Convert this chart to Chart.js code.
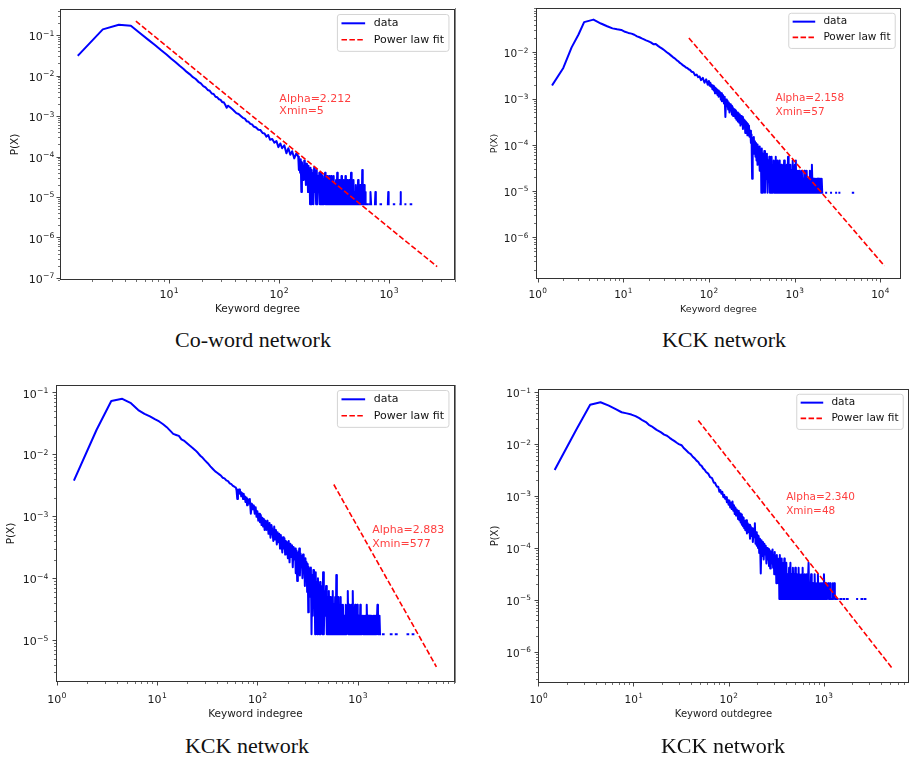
<!DOCTYPE html>
<html>
<head>
<meta charset="utf-8">
<title>Degree distributions</title>
<script src="https://cdn.jsdelivr.net/npm/chart.js@4.4.1/dist/chart.umd.min.js"></script>
<style>
  html, body { margin: 0; padding: 0; background: #fff; }
  body { position: relative; width: 909px; height: 757px; overflow: hidden; }
  canvas { position: absolute; }
  .caption { position: absolute; font-family: "Liberation Serif", "Times New Roman", serif; font-size: 22px; color: #111; white-space: nowrap; transform: translate(-50%, -50%); }
  .edge { position: absolute; left: 455px; width: 1px; background: #858585; }
</style>
</head>
<body>
<canvas id="p1" width="460" height="320" style="left:0;top:0"></canvas>
<canvas id="p2" width="453" height="320" style="left:456px;top:0"></canvas>
<canvas id="p3" width="460" height="360" style="left:0;top:370px"></canvas>
<canvas id="p4" width="453" height="360" style="left:456px;top:370px"></canvas>
<div class="edge" style="top:8px;height:272px"></div>
<div class="edge" style="top:385px;height:298px"></div>
<div class="caption" style="left:253px;top:340px">Co-word network</div>
<div class="caption" style="left:724px;top:340px">KCK network</div>
<div class="caption" style="left:247px;top:746px">KCK network</div>
<div class="caption" style="left:723px;top:746px">KCK network</div>
<script>
// ===============================
// DATA
// ===============================

// Co-word network - keyword degree
const coDeg = [
  1.5, 2.5, 3.5, 4.5, 5.5, 6.5, 7.5, 8.5, 9.5, 10.5, 11.5, 12.5, 13.5, 14.5, 15.5, 16.5, 17.5,
  18.5, 19.5, 20.5, 21.5, 22.5, 23.5, 24.5, 25.5, 26.5, 27.5, 28.5, 29.5, 30.5, 31.5, 32.5, 33.5, 34.5,
  36, 37.5, 39, 41, 43, 45, 47, 49, 51, 53, 55, 57, 59, 62, 65, 68, 71, 74, 77, 80, 83, 87, 91, 95,
  99, 103, 107, 112, 117, 122, 127, 132, 138, 144,
  150, 152, 154, 156, 158, 160, 162, 164, 166, 168, 170, 172, 174, 176, 178, 180, 182, 184, 186, 188, 190, 192, 194, 196, 198, 200,
  203, 206, 209, 212, 215, 218, 221, 224, 227, 230, 233, 236, 239, 242, 245, 248, 251, 254, 257, 260, 263, 266, 269, 272, 275,
  278, 281, 284, 287, 290, 293, 296, 299,
  303, 307, 311, 315, 319, 323, 327, 331, 335, 339, 343, 347, 351, 355, 359, 363, 367, 371, 375, 379, 383, 387, 391, 395, 399,
  403, 407, 411, 415, 419, 423, 427, 431, 435, 439, 443, 447,
  453, 459, 465, 471, 477, 483, 489, 495, 501, 507, 513, 519, 525, 531, 537, 543, 549, 555, 561, 567, 573, 579, 585, 591, 597, 603, 609,
  615, 630, 645, 660, 675, 681, 690, 710, 748, 755, 762, 800, 840, 850, 900, 980, 988, 996, 1050,
  1110, 1120, 1200, 1275, 1280, 1288, 1350, 1415, 1430, 1500, 1580, 1600
];
const coProb = [
  0.032, 0.138, 0.18, 0.17, 0.109, 0.076, 0.056, 0.042, 0.033, 0.026, 0.0212, 0.0174, 0.0147, 0.0123, 0.0107, 0.0091, 0.0082,
  0.0070, 0.0064, 0.0055, 0.0051, 0.0044, 0.0042, 0.0036, 0.0035, 0.0030, 0.0029, 0.0026, 0.0025, 0.0022, 0.0022, 0.0019, 0.0016, 0.0018,
  0.00165, 0.0015, 0.00135, 0.00118, 0.00112, 0.001, 0.0009, 0.00086, 0.00074, 0.00072, 0.00064, 0.00062, 0.00055, 0.00052, 0.00046,
  0.00045, 0.00038, 0.00037, 0.00031, 0.00034, 0.00026, 0.00027, 0.00022, 0.00024,
  0.00017, 0.00021, 0.00016, 0.00019, 0.00012, 0.00016, 0.00011, 0.000135, 0.00009, 0.00012,
  9.9e-5, 4.62e-5, 7.92e-5, 3.96e-5, 8.58e-5, 1.32e-5, 7.26e-5, 3.3e-5, 5.94e-5, 2.64e-5, 7.92e-5, 3.3e-5, 5.28e-5,
  1.98e-5, 6.6e-5, 2.64e-5, 4.62e-5, 1.32e-5, 5.94e-5, 1.98e-5, 3.96e-5, 6.6e-6, 5.28e-5, 1.98e-5, 4.62e-5, 6.6e-6,
  3.96e-5, 6.6e-6, 5.28e-5, 1.32e-5, 3.3e-5, 6.6e-6, 4.62e-5, 6.6e-6, 3.3e-5, 1.32e-5, 3.96e-5, 6.6e-6, 2.64e-5, 6.6e-6,
  3.96e-5, 6.6e-6, 3.3e-5, 6.6e-6, 2.64e-5, 1.32e-5, 3.96e-5, 6.6e-6, 2.64e-5, 6.6e-6, 3.3e-5, 6.6e-6, 1.98e-5, 6.6e-6,
  3.3e-5, 6.6e-6, 2.64e-5, 6.6e-6, 3.3e-5,
  6.6e-6, 2.64e-5, 6.6e-6, 3.3e-5, 6.6e-6, 1.98e-5, 6.6e-6, 2.64e-5, 6.6e-6, 3.96e-5, 6.6e-6, 1.98e-5, 6.6e-6, 2.64e-5,
  6.6e-6, 1.98e-5, 6.6e-6, 3.3e-5, 6.6e-6, 1.98e-5, 6.6e-6, 2.64e-5, 6.6e-6, 1.98e-5, 6.6e-6, 3.3e-5, 6.6e-6, 1.98e-5,
  6.6e-6, 2.64e-5, 6.6e-6, 1.32e-5, 6.6e-6, 2.64e-5, 6.6e-6, 1.98e-5, 6.6e-6,
  3.96e-5, 6.6e-6, 1.98e-5, 6.6e-6, 2.64e-5, 6.6e-6, 1.32e-5, 6.6e-6, 1.98e-5, 6.6e-6, 1.32e-5, 6.6e-6, 2.64e-5, 6.6e-6,
  1.32e-5, 6.6e-6, 1.98e-5, 6.6e-6, 1.32e-5, 6.6e-6, 4.62e-5, 6.6e-6, 1.32e-5, 6.6e-6, 1.98e-5, 6.6e-6, 1.32e-5,
  6.6e-6, 6.6e-6, 6.6e-6, null, 6.6e-6, 1.32e-5, 6.6e-6, null, 6.6e-6, 1.32e-5, 6.6e-6, null, 6.6e-6, 6.6e-6, null,
  6.6e-6, 1.32e-5, 6.6e-6, null, 6.6e-6, 6.6e-6, null, 6.6e-6, 1.32e-5, 6.6e-6, null, 6.6e-6, 6.6e-6, null, 6.6e-6, 6.6e-6
];
const coFitX = [5, 2750];
const coFitY = [0.22, 1.9e-7];

// KCK network - keyword degree
const kckDeg = [
  1.5, 2, 2.5, 3, 3.5, 4.5, 5.5, 6.5, 7.5, 8.5, 9.5, 10.5, 11.5, 12.5, 13.5, 14.5, 15.5, 16.5,
  17.5, 18.5, 19.5, 21, 22.5, 24, 25.5, 27, 28.5, 30, 32, 34, 36, 38,
  40, 42, 44, 46, 48, 50, 52, 54, 56, 58, 60, 63, 66, 69, 72, 75, 78, 81, 85, 89, 93, 97,
  100, 102, 104, 106, 108, 110, 112, 114, 116, 118, 120, 122, 124, 126, 128, 130, 132, 134, 136, 138, 140, 142, 144, 146, 148, 150,
  153, 156, 159, 162, 165, 168, 171, 174, 177, 180, 183, 186, 189, 192, 195, 198, 201, 204, 207, 210,
  214, 218, 222, 226, 230, 234, 238, 242, 246, 250, 254, 258, 262, 266, 270, 274, 278, 282, 286, 290, 294, 298,
  305, 310, 315, 320, 325, 330, 335, 340, 345, 350, 355, 360, 365, 370, 375, 380, 385, 390, 395, 400, 405, 410, 415, 420,
  428, 436, 444, 452, 460, 468, 476, 484, 492, 500, 508, 516, 524, 532, 540, 548, 556, 564, 572, 580, 588, 596, 604, 612,
  620, 628, 636, 644, 652, 660, 668, 676, 684, 692, 700,
  714, 728, 742, 756, 770, 784, 798, 812, 826, 840, 854, 868, 882, 896, 910, 924, 938, 952, 966, 980, 994, 1008, 1022, 1036,
  1050, 1064, 1078, 1092,
  1113, 1134, 1155, 1176, 1197, 1218, 1239, 1260, 1281, 1302, 1323, 1344, 1365, 1386, 1407, 1428, 1449, 1470, 1491, 1512,
  1533, 1554, 1575, 1596,
  1626, 1656, 1686, 1716, 1746, 1776, 1806, 1836, 1866, 1896, 1926, 1956, 1986, 2016, 2046, 2076, 2106, 2136,
  2200, 2340, 2370, 2500, 2670, 2700, 2900, 3060, 3090, 3200, 3340, 3370, 4000, 4790, 4840
];
const kckProb = [
  0.002, 0.0046, 0.0128, 0.024, 0.045, 0.051, 0.042, 0.0366, 0.033, 0.0315, 0.0305, 0.0278, 0.0263, 0.0254, 0.024, 0.0222, 0.0212, 0.02,
  0.0191, 0.0182, 0.0175, 0.0164, 0.015, 0.0152, 0.0138, 0.0128, 0.012, 0.0112, 0.0102, 0.0094, 0.0086, 0.0079,
  0.0074, 0.0068, 0.0064, 0.0059, 0.0056, 0.0052, 0.005, 0.0047, 0.0046, 0.0043, 0.0042, 0.0038, 0.0037, 0.0032, 0.0033,
  0.0029, 0.003, 0.0025, 0.0028, 0.0022, 0.0026, 0.002,
  0.0024, 0.0019, 0.0022, 0.0018, 0.002, 0.0016, 0.0019, 0.0015, 0.0018, 0.0013, 0.0017, 0.0014, 0.0016, 0.0012, 0.0015,
  0.0011, 0.0014, 0.0012, 0.0013, 0.00095, 0.0013, 0.00088, 0.0012, 0.0009, 0.0011, 0.00078,
  0.0011, 0.0004, 0.00095, 0.00068, 0.0009, 0.00058, 0.00082, 0.0005, 0.00075, 0.00055, 0.0007, 0.00045, 0.00066, 0.00042,
  0.0006, 0.0005, 0.00058, 0.00038, 0.00055, 0.00035,
  0.0005, 0.00032, 0.00048, 0.0003, 0.00045, 0.00026, 0.00042, 0.00028, 0.0004, 0.00022, 0.00036, 0.00025, 0.00034, 0.00018,
  0.00032, 0.00021, 0.0003, 0.00016, 0.00028, 0.00019, 0.00026, 0.00015,
  2.02e-4, 1.1e-4, 1.66e-4, 1.84e-5, 1.38e-4, 8.28e-5, 1.47e-4, 6.44e-5, 1.2e-4, 5.52e-5, 1.1e-4, 4.6e-5, 1.01e-4, 3.68e-5,
  9.2e-5, 4.6e-5, 8.28e-5, 2.76e-5, 9.2e-5, 3.68e-5, 7.36e-5, 9.2e-6, 8.28e-5, 9.2e-6,
  6.44e-5, 1.84e-5, 7.36e-5, 9.2e-6, 5.52e-5, 1.84e-5, 6.44e-5, 9.2e-6, 4.6e-5, 1.84e-5, 5.52e-5, 9.2e-6, 4.6e-5, 9.2e-6,
  5.52e-5, 9.2e-6, 3.68e-5, 1.84e-5, 4.6e-5, 9.2e-6, 3.68e-5, 9.2e-6, 5.52e-5, 9.2e-6, 3.68e-5, 9.2e-6, 4.6e-5, 9.2e-6,
  2.76e-5, 9.2e-6, 4.6e-5, 9.2e-6, 2.76e-5, 9.2e-6, 3.68e-5,
  9.2e-6, 2.76e-5, 9.2e-6, 4.6e-5, 9.2e-6, 2.76e-5, 9.2e-6, 3.68e-5, 9.2e-6, 5.52e-5, 9.2e-6, 2.76e-5, 9.2e-6, 3.68e-5,
  9.2e-6, 2.76e-5, 9.2e-6, 4.6e-5, 9.2e-6, 2.76e-5, 9.2e-6, 3.68e-5, 9.2e-6, 4.6e-5, 9.2e-6, 1.84e-5, 9.2e-6, 2.76e-5,
  9.2e-6, 2.76e-5, 9.2e-6, 1.84e-5, 9.2e-6, 2.76e-5, 9.2e-6, 1.84e-5, 9.2e-6, 2.76e-5, 9.2e-6, 1.84e-5, 9.2e-6, 2.76e-5,
  9.2e-6, 1.84e-5, 9.2e-6, 1.84e-5, 9.2e-6, 2.76e-5, 9.2e-6, 1.84e-5, 9.2e-6, 3.68e-5,
  9.2e-6, 1.84e-5, 9.2e-6, 1.84e-5, 9.2e-6, 1.84e-5, 9.2e-6, 1.84e-5, 9.2e-6, 1.84e-5, 9.2e-6, 1.84e-5, 9.2e-6, 1.84e-5,
  9.2e-6, 1.84e-5, 9.2e-6, 9.2e-6,
  null, 9.2e-6, 9.2e-6, null, 9.2e-6, 9.2e-6, null, 9.2e-6, 9.2e-6, null, 9.2e-6, 9.2e-6, null, 9.2e-6, 9.2e-6
];
const kckFitX = [58.5, 11200];
const kckFitY = [0.0204, 2.4e-7];

// KCK network - keyword indegree
const inDeg = [
  1.5, 2.5, 3.5, 4.5, 5.5, 6.5, 7.5, 8.5, 9.5, 10.5, 11.5, 12.5, 13.5, 14.5, 15.5, 16.5, 17.5, 18.5, 19.5,
  21, 22.5, 24, 25.5, 27, 28.5, 30, 32, 34, 36, 38,
  40, 42, 43.5, 45, 47, 49, 51, 53, 55, 57, 59,
  61, 62, 63, 64, 65, 66, 67, 68, 69, 70, 71, 72, 73, 74, 75, 76, 77, 78, 79, 80,
  82, 84, 86, 88, 90, 92, 94, 96, 98, 100, 102, 104, 106, 108, 110, 112, 114, 116, 118, 120,
  123, 126, 129, 132, 135, 138, 141, 144, 147, 150, 153, 156, 159, 162, 165, 168, 171, 174, 177, 180, 183, 186, 189, 192,
  195, 198, 201,
  205, 209, 213, 217, 221, 225, 229, 233, 237, 241, 245, 249, 253, 257, 261, 265, 269, 273, 277, 281, 285, 289, 293, 297,
  301, 305, 309, 313, 317, 321, 325, 329, 333, 337,
  341, 346, 351, 356, 361, 366, 371, 376, 381, 386, 391, 396, 401, 406, 411, 416, 421, 426, 431, 436, 441, 446, 451,
  459, 467, 475, 483, 491, 499, 507, 515, 523, 531, 539, 547, 555, 563, 571, 579, 587, 595, 603, 611, 619, 627, 635, 643,
  651, 659, 667, 675, 683, 691, 699,
  711, 723, 735, 747, 759, 771, 783, 795, 807, 819, 831, 843, 855, 867, 879, 891, 903, 915, 927, 939, 951, 963, 975, 987,
  999, 1011, 1023, 1035, 1047, 1059, 1071, 1083, 1095,
  1114, 1133, 1152, 1171, 1190, 1209, 1228, 1247, 1266, 1285, 1304, 1323, 1342, 1361, 1380, 1399, 1418, 1437, 1456, 1475,
  1494, 1513, 1532, 1551, 1570, 1589, 1608, 1627, 1646, 1665, 1684, 1703,
  1740, 1780, 1810, 1900, 2130, 2170, 2300, 2390, 2440, 2800, 3130, 3180, 3300, 3520, 3580
];
const inProb = [
  0.0039, 0.025, 0.073, 0.079, 0.067, 0.052, 0.045, 0.041, 0.037, 0.034, 0.0307, 0.0275, 0.0242, 0.0214, 0.0206, 0.0199, 0.0175, 0.0167, 0.0155,
  0.014, 0.0128, 0.0117, 0.0106, 0.0095, 0.0088, 0.008, 0.0072, 0.0064, 0.0058, 0.0053,
  0.005, 0.0047, 0.0045, 0.0042, 0.0041, 0.0038, 0.0037, 0.0034, 0.0033, 0.0031, 0.003,
  0.0029, 0.0026, 0.0019, 0.0027, 0.0025, 0.0027, 0.0023, 0.0025, 0.0021, 0.0024, 0.0022, 0.0019, 0.0023, 0.002, 0.0021,
  0.0017, 0.002, 0.0018, 0.0015, 0.0019,
  0.0016, 0.0019, 0.0011, 0.0016, 0.0013, 0.0015, 0.0011, 0.0014, 0.00098, 0.0012, 0.00085, 0.0011, 0.0008, 0.00105,
  0.00072, 0.00095, 0.00068, 0.0009, 0.0006, 0.00085,
  0.0006, 0.00085, 0.00052, 0.00078, 0.00045, 0.00072, 0.00058, 0.0004, 0.00068, 0.00042, 0.0006, 0.00035, 0.00055, 0.00038,
  0.00052, 0.0003, 0.0005, 0.00036, 0.00026, 0.00046, 0.0003, 0.00044, 0.00024, 0.0004, 0.00028, 0.00038, 0.00021,
  0.0004, 0.00018, 0.00036, 0.00022, 0.00034, 0.00015, 0.00032, 0.0002, 0.0003, 0.00012, 0.00028, 0.00009, 0.00026, 0.00017,
  0.0003, 0.00011, 0.00025, 0.00015, 0.00023, 0.0001, 0.00024, 0.00012, 0.0002, 0.000075, 0.00021, 0.00011, 0.00018, 0.00006,
  0.00017, 0.000028, 0.00015, 0.00007, 0.00014, 0.00005,
  1.49e-4, 1.24e-5, 1.12e-4, 2.48e-5, 1.36e-4, 3.72e-5, 9.92e-5, 1.24e-5, 1.24e-4, 2.48e-5, 8.68e-5, 1.24e-5, 9.92e-5,
  2.48e-5, 7.44e-5, 1.24e-5, 8.68e-5, 1.24e-5, 6.2e-5, 2.48e-5, 7.44e-5, 1.24e-5, 1.24e-4,
  1.24e-5, 6.2e-5, 2.48e-5, 7.44e-5, 1.24e-5, 4.96e-5, 1.24e-5, 6.2e-5, 1.24e-5, 4.96e-5, 1.24e-5, 3.72e-5, 1.24e-5, 6.2e-5,
  1.24e-5, 3.72e-5, 1.24e-5, 4.96e-5, 1.24e-5, 1.12e-4, 1.24e-5, 3.72e-5, 1.24e-5, 4.96e-5, 1.24e-5, 3.72e-5, 1.24e-5,
  4.96e-5, 1.24e-5, 3.72e-5, 1.24e-5,
  3.72e-5, 1.24e-5, 2.48e-5, 1.24e-5, 3.72e-5, 1.24e-5, 2.48e-5, 6.2e-5, 1.24e-5, 3.72e-5, 1.24e-5, 2.48e-5, 1.24e-5, 3.72e-5,
  1.24e-5, 6.2e-5, 1.24e-5, 2.48e-5, 1.24e-5, 3.72e-5, 1.24e-5, 2.48e-5, 1.24e-5, 3.72e-5, 1.24e-5, 2.48e-5, 1.24e-5, 2.48e-5,
  1.24e-5, 3.72e-5, 1.24e-5, 2.48e-5, 1.24e-5,
  2.48e-5, 1.24e-5, 2.48e-5, 1.24e-5, 2.48e-5, 1.24e-5, 3.72e-5, 1.24e-5, 2.48e-5, 1.24e-5, 2.48e-5, 1.24e-5, 2.48e-5, 1.24e-5,
  2.48e-5, 1.24e-5, 1.24e-5, 2.48e-5, 1.24e-5, 2.48e-5, 1.24e-5, 2.48e-5, 1.24e-5, 1.24e-5, 3.72e-5, 1.24e-5, 2.48e-5, 1.24e-5,
  2.48e-5, 1.24e-5, 1.24e-5, 1.24e-5,
  null, 1.24e-5, 1.24e-5, null, 1.24e-5, 1.24e-5, null, 1.24e-5, 1.24e-5, null, 1.24e-5, 1.24e-5, null, 1.24e-5, 1.24e-5
];
const inFitX = [577, 6070];
const inFitY = [0.00326, 3.7e-6];

// KCK network - keyword outdegree
const outDeg = [
  1.5, 2.5, 3.5, 4.5, 5.5, 6.5, 7.5, 8.5, 9.5, 10.5, 11.5, 12.5, 13.5, 14.5, 15.5, 16.5, 17.5, 18.5, 19.5,
  21, 22.5, 24, 25.5, 27, 28.5, 30, 32, 34, 36, 38,
  40, 42, 44, 46, 48, 50, 52, 54, 56, 58, 61, 64, 67, 70,
  72, 74, 76, 78, 80, 82, 84, 86, 88, 90, 92, 94, 96, 98, 100,
  102, 104, 106, 108, 110, 112, 114, 116, 118, 120, 122, 124, 126, 128, 130, 132, 134, 136, 138, 140, 142, 144, 146, 148, 150,
  153, 156, 159, 162, 165, 168, 171, 174, 177, 180, 183, 186, 189, 192, 195, 198, 201, 204, 207, 210,
  214, 218, 222, 226, 230, 234, 238, 242, 246, 250, 254, 258, 262, 266, 270, 274, 278, 282, 286,
  290, 294, 298, 302, 306, 310, 314, 318, 322, 326, 330, 334, 338, 342, 346, 350, 354, 358, 362, 366, 370, 374, 378, 382,
  386, 390, 394, 398,
  405, 412, 419, 426, 433, 440, 447, 454, 461, 468, 475, 482, 489, 496, 503, 510, 517, 524, 531, 538, 545, 552, 559, 566,
  573, 580, 587, 594, 601, 608, 615, 622, 629, 636, 643, 650,
  661, 672, 683, 694, 705, 716, 727, 738, 749, 760, 771, 782, 793, 804, 815, 826, 837, 848, 859, 870, 881, 892, 903, 914,
  925, 936, 947, 958, 969, 980, 991,
  1007, 1023, 1039, 1055, 1071, 1087, 1103, 1119, 1135, 1151, 1167, 1183, 1199, 1215, 1231, 1247, 1263, 1279, 1295, 1311, 1327,
  1360, 1400, 1450, 1500, 1530, 1580, 1620, 1650, 1700, 1760, 1790, 2000, 2250, 2290, 2400, 2500, 2540, 2600, 2700, 2750
];
const outProb = [
  0.0033, 0.0188, 0.057, 0.064, 0.055, 0.047, 0.041, 0.039, 0.037, 0.0345, 0.0316, 0.0285, 0.0265, 0.0235, 0.022, 0.0203, 0.0188, 0.0178, 0.0168,
  0.0152, 0.0145, 0.0132, 0.0122, 0.0114, 0.0106, 0.01, 0.0095, 0.0083, 0.0075, 0.0068,
  0.0064, 0.0057, 0.0053, 0.0048, 0.0045, 0.004, 0.0038, 0.0034, 0.0032, 0.0029, 0.0027, 0.0023, 0.0022, 0.0018,
  0.0018, 0.0016, 0.0015, 0.0015, 0.0012, 0.0013, 0.0011, 0.0012, 0.00095, 0.00105, 0.00088, 0.00095, 0.00076, 0.00085, 0.00068,
  0.00082, 0.0006, 0.00075, 0.00056, 0.00078, 0.00052, 0.00066, 0.00045, 0.0006, 0.00042, 0.00055, 0.00046, 0.00036, 0.00052,
  0.00034, 0.00046, 0.00031, 0.00044, 0.00028, 0.0004, 0.00026, 0.00038, 0.00024, 0.00033, 0.00022,
  0.00034, 0.00019, 0.0003, 0.0002, 0.00028, 0.00015, 0.00026, 0.00017, 0.00024, 0.00013, 0.00022, 0.00016, 0.0003, 0.00012,
  0.0002, 0.00011, 0.00018, 0.0001, 0.00017, 0.00008,
  0.00015, 0.000032, 0.00014, 0.00007, 0.00013, 0.00006, 0.00012, 0.000075, 0.00011, 0.00005, 0.0001, 0.00006, 0.000095,
  0.000045, 0.00009, 0.00004, 0.000085, 0.00005, 0.00008,
  9.36e-5, 4.16e-5, 7.28e-5, 3.12e-5, 8.32e-5, 3.12e-5, 6.24e-5, 2.08e-5, 7.28e-5, 3.12e-5, 5.2e-5, 2.08e-5, 6.24e-5, 1.04e-5,
  7.28e-5, 1.04e-5, 5.2e-5, 2.08e-5, 6.24e-5, 1.04e-5, 5.2e-5, 1.04e-5, 4.16e-5, 2.08e-5, 6.24e-5, 1.04e-5, 4.16e-5, 1.04e-5,
  5.2e-5, 1.04e-5, 3.12e-5, 1.04e-5, 4.16e-5, 1.04e-5, 5.2e-5, 1.04e-5, 3.12e-5, 1.04e-5, 4.16e-5, 1.04e-5, 3.12e-5, 1.04e-5,
  4.16e-5, 1.04e-5, 3.12e-5, 1.04e-5, 2.08e-5, 1.04e-5, 4.16e-5, 1.04e-5, 3.12e-5, 1.04e-5, 2.08e-5, 1.04e-5, 3.12e-5, 1.04e-5,
  4.16e-5, 1.04e-5, 2.08e-5, 1.04e-5, 3.12e-5, 1.04e-5, 2.08e-5, 1.04e-5,
  3.12e-5, 1.04e-5, 2.08e-5, 5.2e-5, 1.04e-5, 2.08e-5, 1.04e-5, 3.12e-5, 1.04e-5, 2.08e-5, 1.04e-5, 2.08e-5, 1.04e-5, 3.12e-5,
  1.04e-5, 2.08e-5, 1.04e-5, 2.08e-5, 1.04e-5, 3.12e-5, 1.04e-5, 2.08e-5, 1.04e-5, 2.08e-5, 1.04e-5, 2.08e-5, 1.04e-5, 2.08e-5,
  1.04e-5, 2.08e-5, 1.04e-5,
  3.12e-5, 1.04e-5, 2.08e-5, 1.04e-5, 2.08e-5, 1.04e-5, 1.04e-5, 2.08e-5, 1.04e-5, 1.04e-5, 2.08e-5, 1.04e-5, 1.04e-5, 1.04e-5,
  1.04e-5, 2.08e-5, 1.04e-5, 1.04e-5, 2.08e-5, 1.04e-5, 1.04e-5,
  1.04e-5, 1.04e-5, null, 1.04e-5, 1.04e-5, null, 1.04e-5, 1.04e-5, null, 1.04e-5, 1.04e-5, null,
  1.04e-5, 1.04e-5, null, 1.04e-5, 1.04e-5, null, 1.04e-5, 1.04e-5
];
const outFitX = [48, 5310];
const outFitY = [0.0285, 4.7e-7];

// labelled decades on each axis
const coTicksX = [1e1, 1e2, 1e3];
const coTicksY = [1e-7, 1e-6, 1e-5, 1e-4, 1e-3, 1e-2, 1e-1];
const kckTicksX = [1e0, 1e1, 1e2, 1e3, 1e4];
const kckTicksY = [1e-6, 1e-5, 1e-4, 1e-3, 1e-2];
const inTicksX = [1e0, 1e1, 1e2, 1e3];
const inTicksY = [1e-5, 1e-4, 1e-3, 1e-2, 1e-1];
const outTicksX = [1e0, 1e1, 1e2, 1e3];
const outTicksY = [1e-6, 1e-5, 1e-4, 1e-3, 1e-2, 1e-1];

// ===============================
// PANELS (layout + styles)
// ===============================
const panels = [
  { id: 'p1', x: coDeg, y: coProb, fx: coFitX, fy: coFitY, xMaj: coTicksX, yMaj: coTicksY,
    xr: [1.02, 4000], yr: [8.9e-8, 0.44], H: 320, area: { l: 60, t: 9, r: 455, b: 280 }, W: 460,
    font: 11, tFont: 10.5, xLab: 13, yLab: 6, xTitlePad: 4.7, yTitlePad: 8.7,
    xTitle: 'Keyword degree', notes: ['Alpha=2.212', 'Xmin=5'], noteAt: [101, 2.63e-3], noteGap: 12.3 },
  { id: 'p2', x: kckDeg, y: kckProb, fx: kckFitX, fy: kckFitY, xMaj: kckTicksX, yMaj: kckTicksY,
    xr: [0.96, 17500], yr: [1.25e-7, 0.091], H: 320, area: { l: 80, t: 8, r: 445, b: 279 }, W: 453,
    font: 10.5, tFont: 9.5, xLab: 14, yLab: 8, xTitlePad: 5, yTitlePad: 32.6,
    xTitle: 'Keyword degree', notes: ['Alpha=2.158', 'Xmin=57'], noteAt: [600, 1.0e-3], noteGap: 13.4 },
  { id: 'p3', x: inDeg, y: inProb, fx: inFitX, fy: inFitY, xMaj: inTicksX, yMaj: inTicksY,
    xr: [0.985, 9300], yr: [2.1e-6, 0.132], H: 360, area: { l: 56, t: 15, r: 455, b: 312 }, W: 460,
    font: 11, tFont: 10.5, xLab: 16, yLab: 8, xTitlePad: 9.7, yTitlePad: 5.4,
    xTitle: 'Keyword indegree', notes: ['Alpha=2.883', 'Xmin=577'], noteAt: [1390, 5.9e-4], noteGap: 13.4 },
  { id: 'p4', x: outDeg, y: outProb, fx: outFitX, fy: outFitY, xMaj: outTicksX, yMaj: outTicksY,
    xr: [0.99, 7900], yr: [2.5e-7, 0.115], H: 360, area: { l: 82, t: 19, r: 453, b: 313 }, W: 453,
    font: 10.5, tFont: 10, xLab: 15, yLab: 7.5, xTitlePad: 10, yTitlePad: 33,
    xTitle: 'Keyword outdegree', notes: ['Alpha=2.340', 'Xmin=48'], noteAt: [403, 9.6e-4], noteGap: 14.5 }
];

const FONT = '"DejaVu Sans", "Liberation Sans", sans-serif';

// decades + 2..9 minor ticks inside [min, max]
function logTicks(min, max, majors) {
  const out = [];
  for (let e = Math.floor(Math.log10(min)); e <= Math.ceil(Math.log10(max)); e++) {
    for (let m = 1; m <= 9; m++) {
      const v = m * Math.pow(10, e);
      if (v < min || v > max) continue;
      const major = m === 1 && majors.some(d => Math.abs(Math.log10(d) - e) < 1e-9);
      out.push({ value: v, major });
    }
  }
  return out;
}

// "10" with a raised exponent, like matplotlib mathtext
function drawPow(ctx, v, f, x, cy, align) {
  const exp = String(Math.round(Math.log10(v))).replace('-', '\u2212');
  ctx.font = f + 'px ' + FONT;
  const w1 = ctx.measureText('10').width;
  ctx.font = (0.7 * f) + 'px ' + FONT;
  const w2 = ctx.measureText(exp).width;
  const left = align === 'right' ? x - w1 - w2 : x - (w1 + w2) / 2;
  const base = cy + 0.465 * f;
  ctx.textAlign = 'left';
  ctx.textBaseline = 'alphabetic';
  ctx.fillStyle = '#1a1a1a';
  ctx.font = f + 'px ' + FONT;
  ctx.fillText('10', left, base);
  ctx.font = (0.7 * f) + 'px ' + FONT;
  ctx.fillText(exp, left + w1 + 0.3, base - 0.42 * f);
}

function roundRect(ctx, x, y, w, h, r) {
  ctx.beginPath();
  ctx.moveTo(x + r, y);
  ctx.lineTo(x + w - r, y); ctx.quadraticCurveTo(x + w, y, x + w, y + r);
  ctx.lineTo(x + w, y + h - r); ctx.quadraticCurveTo(x + w, y + h, x + w - r, y + h);
  ctx.lineTo(x + r, y + h); ctx.quadraticCurveTo(x, y + h, x, y + h - r);
  ctx.lineTo(x, y + r); ctx.quadraticCurveTo(x, y, x + r, y);
  ctx.closePath();
}

// frame, matplotlib style ticks + labels, legend box and fit annotation
function decor(p) {
  return {
    id: 'decor',
    afterDraw(chart) {
      const { ctx, chartArea: a, scales: { x, y } } = chart;
      ctx.save();
      ctx.strokeStyle = '#333';
      x.ticks.forEach(t => {
        const px = Math.round(x.getPixelForValue(t.value)) + 0.5;
        ctx.lineWidth = t.major ? 0.9 : 0.7;
        ctx.beginPath(); ctx.moveTo(px, a.bottom); ctx.lineTo(px, a.bottom + (t.major ? 3.5 : 2)); ctx.stroke();
        if (t.major) drawPow(ctx, t.value, p.font, x.getPixelForValue(t.value), a.bottom + p.xLab, 'center');
      });
      y.ticks.forEach(t => {
        const py = Math.round(y.getPixelForValue(t.value)) + 0.5;
        ctx.lineWidth = t.major ? 0.9 : 0.7;
        ctx.beginPath(); ctx.moveTo(a.left, py); ctx.lineTo(a.left - (t.major ? 3.5 : 2), py); ctx.stroke();
        if (t.major) drawPow(ctx, t.value, p.font, a.left - p.yLab, y.getPixelForValue(t.value), 'right');
      });
      ctx.lineWidth = 1;
      ctx.strokeRect(a.left + 0.5, a.top + 0.5, a.right - a.left - 1, a.bottom - a.top - 1);

      // legend
      const f = p.font;
      ctx.font = f + 'px ' + FONT;
      const rows = [chart.data.datasets[1], chart.data.datasets[0]];
      const tw = Math.max(...rows.map(r => ctx.measureText(r.label).width));
      const hl = 2.15 * f, gap = 0.78 * f, padL = 0.37 * f;
      const w = padL + hl + gap + tw + 0.45 * f;
      const h = 0.8 * f + 1.5 * f + 1.05 * f;
      const bx = a.right - 0.55 * f - w, by = a.top + 0.5 * f;
      roundRect(ctx, bx, by, w, h, 2.5);
      ctx.fillStyle = 'rgba(255,255,255,0.85)';
      ctx.fill();
      ctx.strokeStyle = '#d4d4d4';
      ctx.stroke();
      ctx.textBaseline = 'middle';
      ctx.textAlign = 'left';
      rows.forEach((r, i) => {
        const cy = by + 0.8 * f + i * 1.5 * f;
        ctx.setLineDash(r.borderDash || []);
        ctx.strokeStyle = r.borderColor;
        ctx.lineWidth = r.borderWidth;
        ctx.beginPath(); ctx.moveTo(bx + padL, cy); ctx.lineTo(bx + padL + hl, cy); ctx.stroke();
        ctx.setLineDash([]);
        ctx.fillStyle = '#111';
        ctx.fillText(r.label, bx + padL + hl + gap, cy);
      });

      // alpha / xmin note
      const nx = x.getPixelForValue(p.noteAt[0]);
      const ny = y.getPixelForValue(p.noteAt[1]);
      ctx.fillStyle = '#ff4040';
      p.notes.forEach((s, i) => ctx.fillText(s, nx, ny + i * p.noteGap));
      ctx.restore();
    }
  };
}

function axis(p, which) {
  const isX = which === 'x';
  const range = isX ? p.xr : p.yr;
  const majors = isX ? p.xMaj : p.yMaj;
  return {
    type: 'logarithmic',
    min: range[0],
    max: range[1],
    afterBuildTicks: s => { s.ticks = logTicks(range[0], range[1], majors); },
    afterFit: s => {
      if (isX) s.height = p.H - p.area.b;
      else s.width = p.area.l;
    },
    grid: { display: false, drawTicks: false },
    border: { display: false },
    ticks: { display: false, autoSkip: false, maxRotation: 0 },
    title: {
      display: true,
      text: isX ? p.xTitle : 'P(X)',
      color: '#1a1a1a',
      font: { family: FONT, size: p.tFont },
      padding: isX ? { top: 0, bottom: p.xTitlePad } : { top: p.yTitlePad, bottom: 0 }
    }
  };
}

function makeChart(p) {
  if (p.x.length !== p.y.length) throw new Error(p.id + ': ' + p.x.length + ' x vs ' + p.y.length + ' y');
  const pts = p.x.map((v, i) => ({ x: v, y: p.y[i] }));
  const fit = p.fx.map((v, i) => ({ x: v, y: p.fy[i] }));
  new Chart(document.getElementById(p.id), {
    type: 'line',
    data: {
      datasets: [
        { label: 'Power law fit', data: fit, borderColor: '#ff0000', borderWidth: 1.6,
          borderDash: [5.5, 2.4], pointRadius: 0, fill: false },
        { label: 'data', data: pts, borderColor: '#0000ff', borderWidth: 2, pointRadius: 0,
          spanGaps: false, borderJoinStyle: 'round', borderCapStyle: 'square', fill: false }
      ]
    },
    options: {
      responsive: false,
      animation: false,
      events: [],
      layout: { padding: { left: 0, top: p.area.t, right: p.W - p.area.r, bottom: 0 } },
      plugins: { legend: { display: false }, tooltip: { enabled: false } },
      scales: { x: axis(p, 'x'), y: axis(p, 'y') }
    },
    plugins: [decor(p)]
  });
}

panels.forEach(makeChart);
</script>
</body>
</html>
